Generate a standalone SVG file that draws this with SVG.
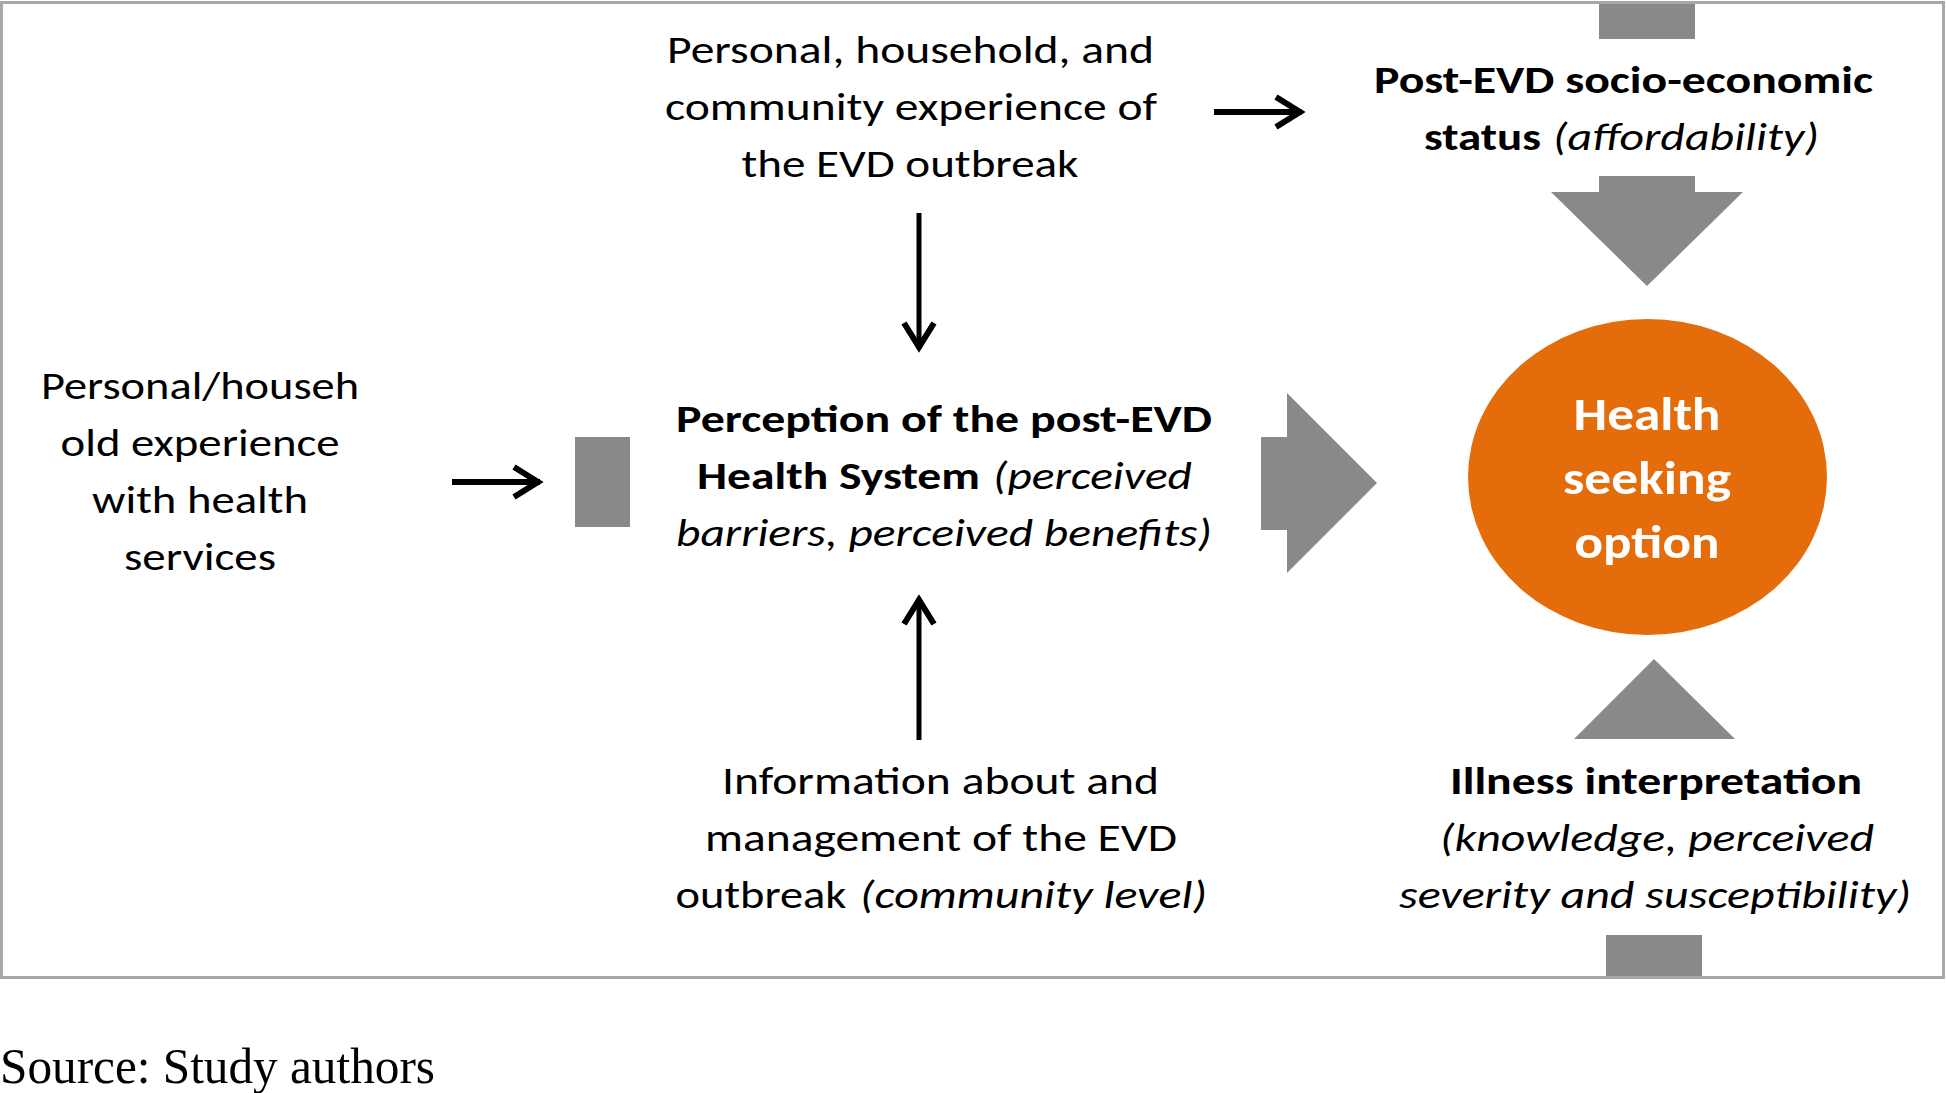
<svg xmlns="http://www.w3.org/2000/svg" width="1946" height="1093" viewBox="0 0 1946 1093">
  <style>
    .t { font-family: Carlito, Lato, "Liberation Sans", sans-serif; font-size: 39px; fill: #000; }
    .b { font-weight: bold; }
    .i { font-style: italic; }
    .c { text-anchor: middle; }
    .blk { fill: #898989; }
    .conn { stroke: #000; fill: none; }
    .src { font-family: "Liberation Serif", "Times New Roman", serif; font-size: 50px; fill: #000; }
  </style>
  <defs>
    <marker id="chev" markerUnits="userSpaceOnUse" viewBox="-32 -18 36 36" refX="0" refY="0" markerWidth="36" markerHeight="36" orient="auto">
      <path d="M-26,-15 L-2,0 L-26,15" fill="none" stroke="#000" stroke-width="6" stroke-linejoin="miter"/>
    </marker>
  </defs>

  <rect x="0" y="0" width="1946" height="1093" fill="#fff"/>
  <rect id="frame" x="1.5" y="2.5" width="1942" height="975" fill="none" stroke="#a8a8a8" stroke-width="3"/>

  <g id="connectors">
    <line class="conn" x1="1214" y1="112" x2="1302" y2="112" stroke-width="6" marker-end="url(#chev)"/>
    <line class="conn" x1="452" y1="482" x2="540" y2="482" stroke-width="6" marker-end="url(#chev)"/>
    <line class="conn" x1="919" y1="213" x2="919" y2="349" stroke-width="5" marker-end="url(#chev)"/>
    <line class="conn" x1="919" y1="740" x2="919" y2="598" stroke-width="5" marker-end="url(#chev)"/>
  </g>

  <g id="block-arrows">
    <rect class="blk" x="1599" y="4" width="96" height="35"/>
    <polygon class="blk" points="1599,176 1695,176 1695,192 1743,192 1647,286 1551,192 1599,192"/>
    <rect class="blk" x="575" y="437" width="55" height="90"/>
    <polygon class="blk" points="1261,437 1287,437 1287,393 1377,483 1287,573 1287,530 1261,530"/>
    <polygon class="blk" points="1654,659 1735,739 1574,739"/>
    <rect class="blk" x="1606" y="935" width="96" height="41"/>
  </g>

  <g id="node-community-experience">
    <text class="t c" x="910.5" y="63" textLength="487" lengthAdjust="spacingAndGlyphs">Personal, household, and</text>
    <text class="t c" x="911" y="120" textLength="492" lengthAdjust="spacingAndGlyphs">community experience of</text>
    <text class="t c" x="910" y="177" textLength="337" lengthAdjust="spacingAndGlyphs">the EVD outbreak</text>
  </g>

  <g id="node-socio-economic">
    <text class="t b c" x="1623.5" y="93" textLength="499" lengthAdjust="spacingAndGlyphs">Post-EVD socio-economic</text>
    <text class="t b" x="1424" y="150" textLength="117" lengthAdjust="spacingAndGlyphs">status</text>
    <text class="t i" x="1553" y="150" textLength="266" lengthAdjust="spacingAndGlyphs">(affordability)</text>
  </g>

  <g id="node-health-services">
    <text class="t c" x="200" y="399" textLength="318" lengthAdjust="spacingAndGlyphs">Personal/househ</text>
    <text class="t c" x="200" y="456" textLength="279" lengthAdjust="spacingAndGlyphs">old experience</text>
    <text class="t c" x="200" y="513" textLength="216" lengthAdjust="spacingAndGlyphs">with health</text>
    <text class="t c" x="200" y="570" textLength="152" lengthAdjust="spacingAndGlyphs">services</text>
  </g>

  <g id="node-perception">
    <text class="t b c" x="944" y="432" textLength="536" lengthAdjust="spacingAndGlyphs">Perception of the post-EVD</text>
    <text class="t b" x="697" y="489" textLength="283" lengthAdjust="spacingAndGlyphs">Health System</text>
    <text class="t i" x="993" y="489" textLength="199" lengthAdjust="spacingAndGlyphs">(perceived</text>
    <text class="t i c" x="944" y="546" textLength="536" lengthAdjust="spacingAndGlyphs">barriers, perceived benefits)</text>
  </g>

  <g id="node-health-seeking">
    <ellipse cx="1647.5" cy="477" rx="179.5" ry="158" fill="#E46C0A"/>
    <text class="t b c" x="1647" y="430" style="font-size:46px;fill:#fff" textLength="147" lengthAdjust="spacingAndGlyphs">Health</text>
    <text class="t b c" x="1647" y="494" style="font-size:46px;fill:#fff" textLength="168" lengthAdjust="spacingAndGlyphs">seeking</text>
    <text class="t b c" x="1647" y="558" style="font-size:46px;fill:#fff" textLength="145" lengthAdjust="spacingAndGlyphs">option</text>
  </g>

  <g id="node-information">
    <text class="t c" x="940.5" y="794" textLength="437" lengthAdjust="spacingAndGlyphs">Information about and</text>
    <text class="t c" x="941" y="851" textLength="472" lengthAdjust="spacingAndGlyphs">management of the EVD</text>
    <text class="t" x="675.5" y="908" textLength="171" lengthAdjust="spacingAndGlyphs">outbreak</text>
    <text class="t i" x="860" y="908" textLength="347" lengthAdjust="spacingAndGlyphs">(community level)</text>
  </g>

  <g id="node-illness">
    <text class="t b c" x="1656" y="794" textLength="412" lengthAdjust="spacingAndGlyphs">Illness interpretation</text>
    <text class="t i c" x="1657" y="851" textLength="434" lengthAdjust="spacingAndGlyphs">(knowledge, perceived</text>
    <text class="t i c" x="1655" y="908" textLength="512" lengthAdjust="spacingAndGlyphs">severity and susceptibility)</text>
  </g>

  <text class="src" x="0" y="1083" textLength="435" lengthAdjust="spacingAndGlyphs">Source: Study authors</text>
</svg>
